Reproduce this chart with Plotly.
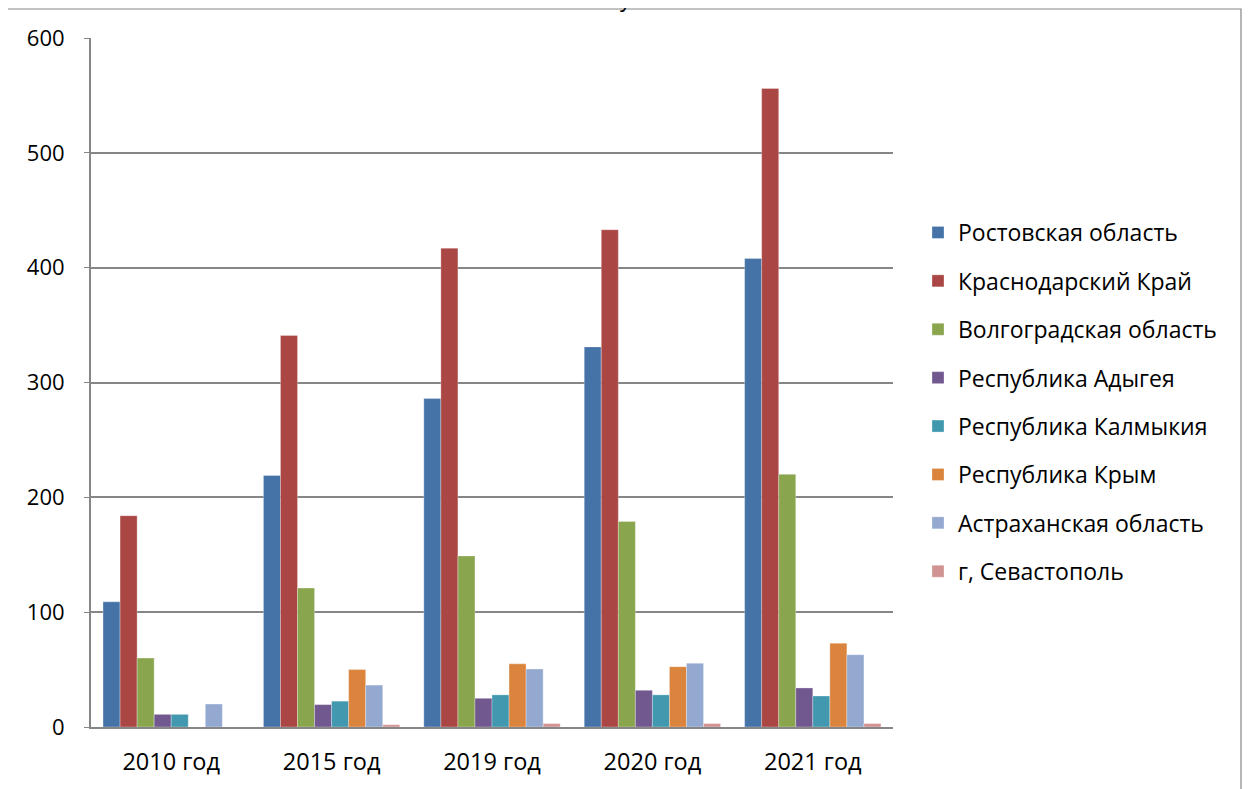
import plotly.graph_objects as go

categories = ["2010 год", "2015 год", "2019 год", "2020 год", "2021 год"]
rostov = [109, 219, 286, 331, 408]
krasnodar = [184, 341, 417, 433, 556]
volgograd = [60, 121, 149, 179, 220]
adygea = [11, 19.5, 25, 32, 34]
kalmykia = [11, 22.5, 28, 28, 27]
krym = [0, 50, 55, 52.5, 73]
astrakhan = [20, 36.5, 50.5, 55.5, 63]
sevastopol = [0, 2, 3, 3, 3]

series = [
    ("Ростовская область", rostov, "#4572A7"),
    ("Краснодарский Край", krasnodar, "#AA4643"),
    ("Волгоградская область", volgograd, "#89A54E"),
    ("Республика Адыгея", adygea, "#71588F"),
    ("Республика Калмыкия", kalmykia, "#4198AF"),
    ("Республика Крым", krym, "#DB843D"),
    ("Астраханская область", astrakhan, "#93A9CF"),
    ("г, Севастополь", sevastopol, "#D19392"),
]

fig = go.Figure()
for i, (name, vals, col) in enumerate(series):
    fig.add_trace(go.Bar(
        x=categories, y=vals, name=name, legendgroup=f"g{i}",
        marker=dict(color=col, line=dict(color="rgba(255,255,255,0.5)", width=0.6)),
    ))

OFF = 8  # page body margin
W, H = 1252 - OFF, 789 - OFF
# screen coordinates of plot area
SX0, SX1, SY0, SY1 = 91, 893, 38, 727
L, R, T, B = SX0 - OFF, W - (SX1 - OFF), SY0 - OFF, H - (SY1 - OFF)
pw, ph = W - L - R, H - T - B

def px(x):
    return (x - OFF - L) / pw

def py(y):
    return (SY1 - y) / ph

fig.add_shape(type="rect", xref="paper", yref="paper",
              x0=px(3), x1=px(1241), y0=py(800), y1=py(9),
              line=dict(color="#868686", width=1.2), fillcolor="rgba(0,0,0,0)", layer="below")

fig.add_annotation(text="у", xref="paper", yref="paper", x=px(634), y=py(15),
                   showarrow=False, font=dict(size=23, color="#000"), yanchor="bottom")

fig.update_layout(
    width=W, height=H,
    margin=dict(l=L, r=R, t=T, b=B),
    paper_bgcolor="white", plot_bgcolor="white",
    font=dict(family="Open Sans, Noto Sans, sans-serif", size=23, color="#000"),
    barmode="group", bargap=0.15, bargroupgap=0,
    showlegend=True,
    legend=dict(x=px(918), y=py(211), xanchor="left", yanchor="top",
                font=dict(size=23), tracegroupgap=15.5, traceorder="grouped",
                itemwidth=30, bgcolor="rgba(0,0,0,0)"),
)
fig.update_xaxes(showgrid=False, showline=True, linecolor="#868686", linewidth=2,
                 ticks="", ticklabelstandoff=13, tickfont=dict(size=23.5))
fig.update_yaxes(range=[0, 600], dtick=100, showgrid=True, gridcolor="#868686", gridwidth=1.6,
                 showline=True, linecolor="#868686", linewidth=2, zeroline=False,
                 ticks="outside", ticklen=5, tickcolor="#868686", ticklabelstandoff=15,
                 tickfont=dict(size=22))

fig.write_html("out.html")
